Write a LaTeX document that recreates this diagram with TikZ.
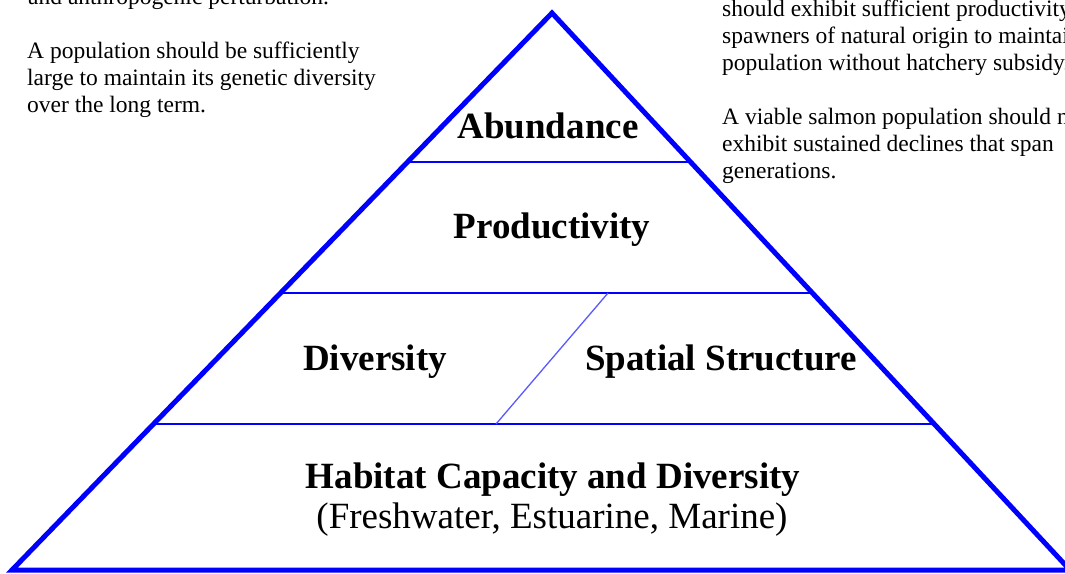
\documentclass[tikz,border=0pt]{standalone}
\usepackage{fontspec}
\setmainfont{Liberation Serif}
\usetikzlibrary{calc}

\begin{document}
\begin{tikzpicture}[x=1pt, y=-1pt,
    outline/.style={blue, line width=5pt, line join=miter},
    layer/.style={blue, line width=1.8pt},
    divider/.style={blue!65!white, line width=1.3pt},
    tier/.style={font=\fontsize{37}{44}\selectfont\bfseries, inner sep=0pt, anchor=base},
    subtier/.style={font=\fontsize{37}{44}\selectfont, inner sep=0pt, anchor=base},
    note/.style={font=\fontsize{23.5}{27}\selectfont, align=left, inner sep=0pt, anchor=base west}]
    \useasboundingbox (0,0) rectangle (1065,573);
    \clip (0,0) rectangle (1065,573);

    \coordinate (Top) at (552,13);
    \coordinate (LowerLeft) at (12,570);
    \coordinate (LowerRight) at (1070,570);

    % tier boundaries on both sides
    \coordinate (LeftA) at ($(Top)!0.2675!(LowerLeft)$);
    \coordinate (RightA) at ($(Top)!0.2675!(LowerRight)$);
    \coordinate (LeftB) at ($(Top)!0.5027!(LowerLeft)$);
    \coordinate (RightB) at ($(Top)!0.5027!(LowerRight)$);
    \coordinate (LeftC) at ($(Top)!0.7379!(LowerLeft)$);
    \coordinate (RightC) at ($(Top)!0.7379!(LowerRight)$);
    \coordinate (SplitTop) at (608,293);
    \coordinate (SplitBottom) at (496,424);

    \draw[layer] (LeftA) -- (RightA);
    \draw[layer] (LeftB) -- (RightB);
    \draw[layer] (LeftC) -- (RightC);
    \draw[divider] (SplitTop) -- (SplitBottom);
    \draw[outline] (LowerLeft) -- (Top) -- (LowerRight) -- cycle;

    \node[tier] at (548,138) (Abundance) {Abundance};
    \node[tier] at (552,238) (Productivity) {Productivity};
    \node[tier] at (375,370) (Diversity) {Diversity};
    \node[tier] at (721,370) (Spatial) {Spatial Structure};
    \node[tier] at (553,488) (Habitat) {Habitat Capacity and Diversity};
    \node[subtier] at (552,528) (HabitatSub) {(Freshwater, Estuarine, Marine)};

    % side notes, partly cut off by the page edge (anchored on their last line)
    \node[note] at (28,4) (TopNote) {and anthropogenic perturbation.};
    \node[note] at (27,112) (LeftNote) {A population should be sufficiently\\
        large to maintain its genetic diversity\\
        over the long term.};
    \node[note] at (722,70) (RightNoteA) {should exhibit sufficient productivity\\
        spawners of natural origin to maintain\\
        population without hatchery subsidy.};
    \node[note] at (722,178) (RightNoteB) {A viable salmon population should not\\
        exhibit sustained declines that span\\
        generations.};
\end{tikzpicture}
\end{document}
